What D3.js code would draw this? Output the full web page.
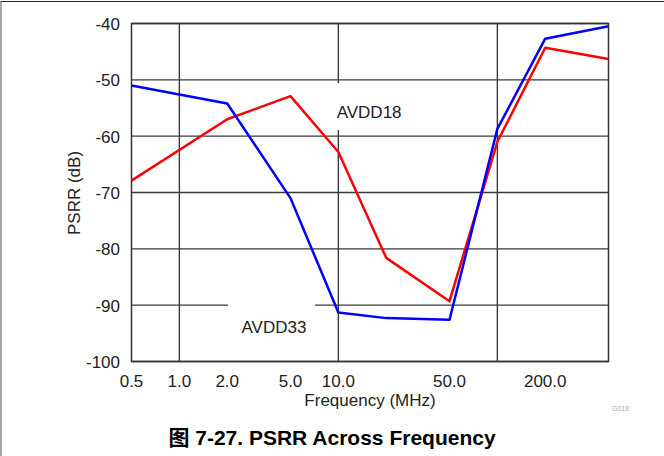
<!DOCTYPE html>
<html><head><meta charset="utf-8">
<script src="https://cdn.jsdelivr.net/npm/d3@7"></script>
<style>
html,body{margin:0;padding:0;background:#fff;}
svg{display:block;font-family:"Liberation Sans",Arial,"Noto Sans CJK SC",sans-serif;}
</style></head>
<body>
<script>
const freqs = [0.5, 2, 5, 10, 20, 50, 100, 200, 500];
const avdd33 = [-51.0, -54.2, -71.0, -91.3, -92.3, -92.6, -58.7, -42.7, -40.5];
const avdd18 = [-67.9, -57.0, -52.9, -62.8, -81.6, -89.3, -61.0, -44.3, -46.3];
const xTickLabels = ["0.5", "1.0", "2.0", "5.0", "10.0", "50.0", "200.0"];
const xTickValues = [0.5, 1, 2, 5, 10, 50, 200];
const xGridValues = [1, 10, 100];
const yTicks = [-40, -50, -60, -70, -80, -90, -100];
const seriesLabels = ["AVDD18", "AVDD33"];
const labelAnchorsF = [9.76, 2.46];
const labelAnchorsV = [-56.8, -94.9];

const W = 664, H = 456;
const svg = d3.select("body").append("svg").attr("width", W).attr("height", H);

// outer frame
svg.append("line").attr("x1",0).attr("x2",W).attr("y1",1.5).attr("y2",1.5).attr("stroke","#222").attr("stroke-width",1.2);
svg.append("line").attr("x1",1).attr("x2",1).attr("y1",1).attr("y2",H).attr("stroke","#888").attr("stroke-width",1.5);

const x = d3.scaleLog().domain([0.5, 500]).range([131.5, 608.5]);
const y = d3.scaleLinear().domain([-100, -40]).range([361.5, 23.5]);

const g = svg.append("g");
// grid
g.selectAll(".hg").data(yTicks).enter().append("line")
  .attr("x1", x.range()[0]).attr("x2", x.range()[1])
  .attr("y1", d => y(d)).attr("y2", d => y(d))
  .attr("stroke", "#3a3a3a").attr("stroke-width", 1.4);
g.selectAll(".vg").data(xGridValues).enter().append("line")
  .attr("x1", d => x(d)).attr("x2", d => x(d))
  .attr("y1", y.range()[1]).attr("y2", y.range()[0])
  .attr("stroke", "#3a3a3a").attr("stroke-width", 1.4);

// label boxes (white background)
const labels = seriesLabels.map((t, i) => ({text: t, fx: labelAnchorsF[i], v: labelAnchorsV[i]}));
const labX = d => x(d.fx), labY = d => y(d.v);
g.selectAll(".lb").data(labels).enter().append("rect")
  .attr("x", d => labX(d) - 13.5).attr("y", d => labY(d) - 35)
  .attr("width", 87).attr("height", 47)
  .attr("fill", "#fff");

// plot frame
g.append("rect").attr("x", x.range()[0]).attr("y", y.range()[1])
  .attr("width", x.range()[1]-x.range()[0]).attr("height", y.range()[0]-y.range()[1])
  .attr("fill","none").attr("stroke","#333").attr("stroke-width",1.5);

// lines
const line = d3.line().x(d => x(d[0])).y(d => y(d[1]));
g.append("path").datum(freqs.map((f,i)=>[f, avdd18[i]])).attr("d", line)
  .attr("fill","none").attr("stroke","#ff0000").attr("stroke-width",2.5).attr("stroke-linejoin","round");
g.append("path").datum(freqs.map((f,i)=>[f, avdd33[i]])).attr("d", line)
  .attr("fill","none").attr("stroke","#0000ff").attr("stroke-width",2.5).attr("stroke-linejoin","round");

// label text
g.selectAll(".lt").data(labels).enter().append("text")
  .attr("x", d => labX(d)).attr("y", d => labY(d))
  .attr("font-size", 17).attr("fill", "#222").text(d => d.text);

// tick labels
g.selectAll(".xt").data(xTickValues).enter().append("text")
  .attr("x", d => x(d)).attr("y", 387).attr("text-anchor","middle")
  .attr("font-size", 17).attr("fill","#222").text((d,i) => xTickLabels[i]);
g.selectAll(".yt").data(yTicks).enter().append("text")
  .attr("x", 120).attr("y", d => y(d) + 6.5).attr("text-anchor","end")
  .attr("font-size", 17).attr("fill","#222").text(d => d);

// axis titles
svg.append("text").attr("x", 370).attr("y", 406).attr("text-anchor","middle")
  .attr("font-size", 17).attr("fill","#222").text("Frequency (MHz)");
svg.append("text").attr("transform","translate(80,193) rotate(-90)").attr("text-anchor","middle")
  .attr("font-size", 17).attr("fill","#222").text("PSRR (dB)");
svg.append("text").attr("x", 620.5).attr("y", 411).attr("text-anchor","middle")
  .attr("font-size", 7).attr("fill","#aaa").text("G018");

// caption
svg.append("text").attr("x", 332).attr("y", 445).attr("text-anchor","middle")
  .attr("font-size", 21).attr("font-weight","bold").attr("fill","#000")
  .text("图 7-27. PSRR Across Frequency");
</script>
</body></html>
